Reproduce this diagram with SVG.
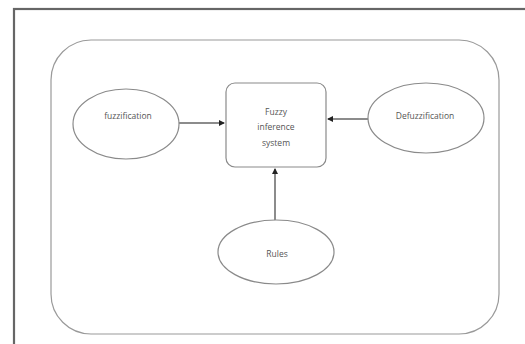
<svg xmlns="http://www.w3.org/2000/svg" width="525" height="344" viewBox="0 0 525 344">
<style>
.shape{fill:#fff;stroke:#8a8a8a;stroke-width:1.2}
.lbl{font-family:"Open Sans","Liberation Sans",sans-serif;font-size:8.5px;fill:#555;text-anchor:middle}
.conn{stroke:#666;stroke-width:1.5;fill:none}
</style>
<defs>
<marker id="ah" viewBox="0 0 6 6" refX="5" refY="3" markerWidth="4" markerHeight="4" orient="auto">
<path d="M0,0 L6,3 L0,6 z" fill="#222"/>
</marker>
</defs>
<rect x="0" y="0" width="525" height="344" fill="#fff"/>
<rect x="14" y="9" width="520" height="345" fill="none" stroke="#666" stroke-width="2.2"/>
<rect id="container" x="51" y="40" width="448" height="294" rx="40" ry="40" fill="none" stroke="#9a9a9a" stroke-width="1.2"/>
<g id="connectors">
<line class="conn" x1="179" y1="123" x2="224" y2="123" marker-end="url(#ah)"/>
<line class="conn" x1="368" y1="119" x2="328" y2="119" marker-end="url(#ah)"/>
<line class="conn" x1="275" y1="221" x2="275" y2="169" marker-end="url(#ah)"/>
</g>
<g id="fuzzification">
<ellipse class="shape" cx="126" cy="124" rx="53" ry="35"/>
<text class="lbl" x="128" y="119">fuzzification</text>
</g>
<g id="fis">
<rect class="shape" x="226" y="83" width="100" height="84" rx="9" ry="9"/>
<text class="lbl" x="276" y="115">Fuzzy</text>
<text class="lbl" x="276" y="130">inference</text>
<text class="lbl" x="276" y="146">system</text>
</g>
<g id="defuzzification">
<ellipse class="shape" cx="426" cy="118" rx="58" ry="35"/>
<text class="lbl" x="425" y="119">Defuzzification</text>
</g>
<g id="rules">
<ellipse class="shape" cx="276" cy="252" rx="58" ry="32"/>
<text class="lbl" x="277" y="257">Rules</text>
</g>
</svg>
